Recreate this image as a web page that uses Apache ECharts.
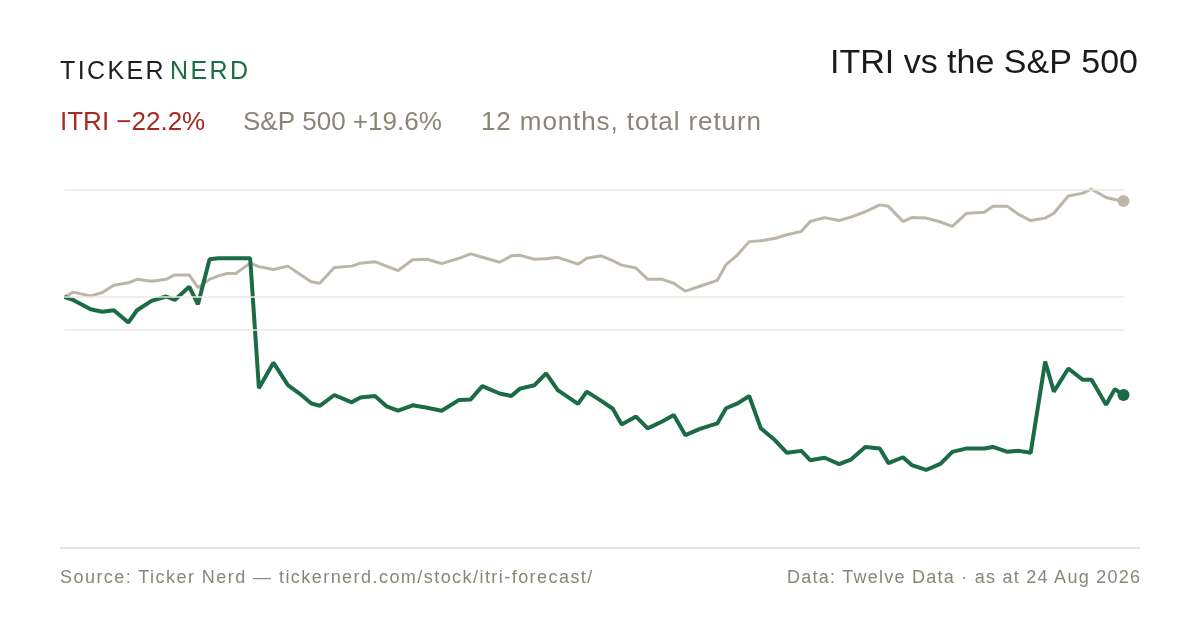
<!DOCTYPE html>
<html>
<head>
<meta charset="utf-8">
<title>ITRI vs the S&P 500</title>
<script src="https://cdn.jsdelivr.net/npm/echarts@6/dist/echarts.min.js"></script>
<style>
  html, body { margin: 0; padding: 0; background: #fff; }
  #wrap { position: relative; width: 1200px; height: 630px; }
  #chart { width: 1200px; height: 630px; }
  .logo {
    position: absolute; left: 60px; top: 55px;
    font-family: "Liberation Sans", Arial, sans-serif;
    font-size: 25px; letter-spacing: 2.4px; line-height: 30px;
    color: #1f1f1f;
  }
  .logo span { color: #1b6b45; margin-left: 4px; }
  .sub {
    position: absolute; left: 481px; top: 106px;
    font-family: "Liberation Sans", Arial, sans-serif;
    font-size: 26px; line-height: 30px; letter-spacing: 0.9px;
    color: #8a8577; white-space: nowrap;
  }
  .foot {
    position: absolute; top: 566.5px;
    font-family: "Liberation Sans", Arial, sans-serif;
    font-size: 18px; line-height: 20px;
    color: #8a8577; white-space: nowrap;
  }
  .foot.l { left: 60px; letter-spacing: 1.45px; }
  .foot.r { right: 58.8px; letter-spacing: 1.25px; }
</style>
</head>
<body>
<div id="wrap">
  <div id="chart"></div>
  <div class="logo">TICKER<span>NERD</span></div>
  <div class="sub">12 months, total return</div>
  <div class="foot l">Source: Ticker Nerd — tickernerd.com/stock/itri-forecast/</div>
  <div class="foot r">Data: Twelve Data · as at 24 Aug 2026</div>
</div>
<script>
// days since 24 Aug 2025
var days = [0, 3, 9, 13, 17, 22, 25, 30, 35, 38, 43, 46, 50, 53, 56, 59, 64, 67, 72, 77,
  81, 85, 88, 93, 99, 102, 107, 111, 115, 120, 125, 130, 136, 140, 144, 150, 154, 157, 162, 166,
  170, 177, 180, 185, 189, 192, 197, 201, 206, 210, 214, 219, 225, 228, 232, 236, 240, 245, 249, 254,
  257, 262, 267, 271, 276, 281, 284, 289, 292, 297, 302, 306, 311, 317, 320, 325, 329, 333, 338, 341,
  346, 351, 354, 359, 362, 365];

// ITRI, % change from start
var itri = [0, -0.6, -2.5, -3.0, -2.7, -5.2, -2.7, -0.8, 0.1, -0.6, 2.1, -1.5, 7.7, 7.9, 7.9, 7.9, 7.9, -18.6, -13.4, -18.0,
  -19.7, -21.7, -22.2, -20.0, -21.5, -20.5, -20.2, -22.3, -23.2, -22.1, -22.6, -23.2, -21.0, -20.9, -18.2, -19.7, -20.2, -18.7, -18.0, -15.6,
  -19.0, -21.8, -19.3, -21.2, -22.8, -26.0, -24.4, -26.8, -25.4, -24.1, -28.2, -26.9, -25.8, -22.7, -21.7, -20.2, -26.8, -29.3, -31.8, -31.4,
  -33.3, -32.8, -34.1, -33.2, -30.6, -30.9, -33.9, -32.7, -34.3, -35.3, -34.0, -31.6, -30.9, -30.9, -30.6, -31.6, -31.4, -31.8, -13.2, -19.3,
  -14.6, -16.9, -16.9, -22.0, -18.8, -20.0];

// S&P 500, % change from start
var spx = [0, 1.0, 0.2, 0.9, 2.4, 2.9, 3.6, 3.2, 3.6, 4.5, 4.5, 1.9, 3.6, 4.3, 4.8, 4.8, 6.9, 6.2, 5.6, 6.3,
  4.7, 3.1, 2.8, 6.0, 6.3, 6.9, 7.2, 6.3, 5.4, 7.6, 7.7, 6.8, 7.9, 8.8, 8.1, 7.1, 8.4, 8.5, 7.7, 7.8,
  8.1, 6.7, 7.9, 8.4, 7.4, 6.5, 5.9, 3.6, 3.6, 2.8, 1.2, 2.2, 3.4, 6.6, 8.6, 11.3, 11.5, 12.0, 12.7, 13.4,
  15.4, 16.2, 15.6, 16.3, 17.4, 18.8, 18.5, 15.4, 16.2, 16.1, 15.3, 14.4, 17.1, 17.3, 18.5, 18.5, 16.8, 15.6, 16.1, 17.1,
  20.6, 21.2, 22.0, 20.3, 19.9, 19.6];

var gridLevels = [21.9, 0, -6.7];

var green = '#1b6b45';
var sand = '#bcb6aa';
var muted = '#8a8577';
var font = '"Liberation Sans", Arial, sans-serif';

function pairs(vals) {
  return vals.map(function (v, i) { return [days[i], v]; });
}
// 只在最后一个点画圆点
function lastDot(value, params) {
  return params.dataIndex === days.length - 1 ? 12 : 0;
}

var chart = echarts.init(document.getElementById('chart'));
var option = {
  animation: false,
  backgroundColor: '#fff',
  grid: { left: 64.5, right: 76.5, top: 150, bottom: 137 },
  xAxis: { type: 'value', min: 0, max: 365, show: false },
  yAxis: { type: 'value', min: -40, max: 30, show: false },
  graphic: [
    {
      type: 'text', right: 62, top: 47,
      style: { text: 'ITRI vs the S&P 500', font: '34px ' + font, fill: '#1a1a1a' }
    },
    {
      type: 'text', left: 60, top: 110,
      style: { text: 'ITRI \u221222.2%', font: '26px ' + font, fill: '#a52a22' }
    },
    {
      type: 'text', left: 243, top: 110,
      style: { text: 'S&P 500 +19.6%', font: '26px ' + font, fill: muted }
    },
    {
      type: 'line', silent: true,
      shape: { x1: 60, y1: 548, x2: 1140, y2: 548 },
      style: { stroke: '#dcd8ce', lineWidth: 1.5 }
    }
  ],
  series: [
    {
      // 参考线
      type: 'line', data: [], silent: true,
      markLine: {
        silent: true, symbol: ['none', 'none'],
        label: { show: false },
        lineStyle: { color: '#ebe8e1', width: 1.5, type: 'solid' },
        data: gridLevels.map(function (v) { return { yAxis: v }; })
      }
    },
    {
      name: 'S&P 500', type: 'line', data: pairs(spx),
      symbol: 'circle', symbolSize: lastDot, showAllSymbol: true,
      itemStyle: { color: sand },
      lineStyle: { color: sand, width: 3 },
      z: 3
    },
    {
      name: 'ITRI', type: 'line', data: pairs(itri),
      symbol: 'circle', symbolSize: lastDot, showAllSymbol: true,
      itemStyle: { color: green },
      lineStyle: { color: green, width: 4 },
      z: 4
    }
  ]
};
chart.setOption(option);
</script>
</body>
</html>
